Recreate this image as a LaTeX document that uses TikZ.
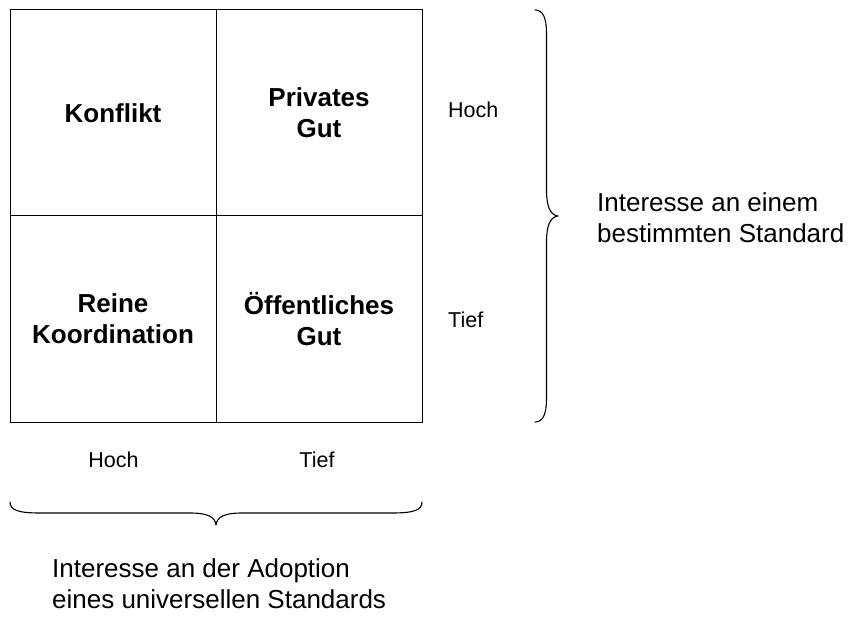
\documentclass[tikz,border=0pt]{standalone}
\usepackage{fontspec}
\setmainfont{Liberation Sans}
\begin{document}
\begin{tikzpicture}[x=1pt,y=-1pt,
  cell/.style={draw,line width=1pt,minimum width=206pt,minimum height=206pt,
    inner sep=0pt,align=center,font=\fontsize{26}{31}\selectfont\bfseries},
  axislabel/.style={inner sep=0pt,font=\fontsize{21.5}{26}\selectfont},
  caption/.style={inner sep=0pt,align=left,font=\fontsize{26}{31}\selectfont},
  brace/.style={line width=1.1pt,line cap=round,line join=round}]
\useasboundingbox (0,0) rectangle (848,617);

% 2x2 matrix
\node[cell] (konflikt) at (113,113) {Konflikt};
\node[cell] (privat)   at (319,113) {Privates\\Gut};
\node[cell] (koord)    at (113,319) {Reine\\Koordination};
\node[cell] (oeff)     at (319,319) {Öffentliches\\Gut};

% row labels
\node[axislabel,anchor=base west] (rhoch) at (448,118) {Hoch};
\node[axislabel,anchor=base west] (rtief) at (448,327) {Tief};

% column labels
\node[axislabel,anchor=base] (choch) at (113.5,467) {Hoch};
\node[axislabel,anchor=base] (ctief) at (317,467) {Tief};

% right brace
\draw[brace] (535,10) .. controls (543,10) and (546.5,18) .. (546.5,33)
  -- (546.5,190) .. controls (546.5,206) and (550,215) .. (558,216)
  .. controls (550,217) and (546.5,226) .. (546.5,242)
  -- (546.5,399) .. controls (546.5,414) and (543,422) .. (535,422);

% bottom brace
\draw[brace] (10,502) .. controls (10,510) and (18,513) .. (40,513)
  -- (190,513) .. controls (206,513) and (215,516) .. (216,525)
  .. controls (217,516) and (226,513) .. (242,513)
  -- (392,513) .. controls (414,513) and (422,510) .. (422,502);

% axis captions (base anchor sits on the last line)
\node[caption,anchor=base west] (rcap) at (597,243)
  {Interesse an einem\\bestimmten Standard};
\node[caption,anchor=base west] (bcap) at (52,608)
  {Interesse an der Adoption\\eines universellen Standards};
\end{tikzpicture}
\end{document}
